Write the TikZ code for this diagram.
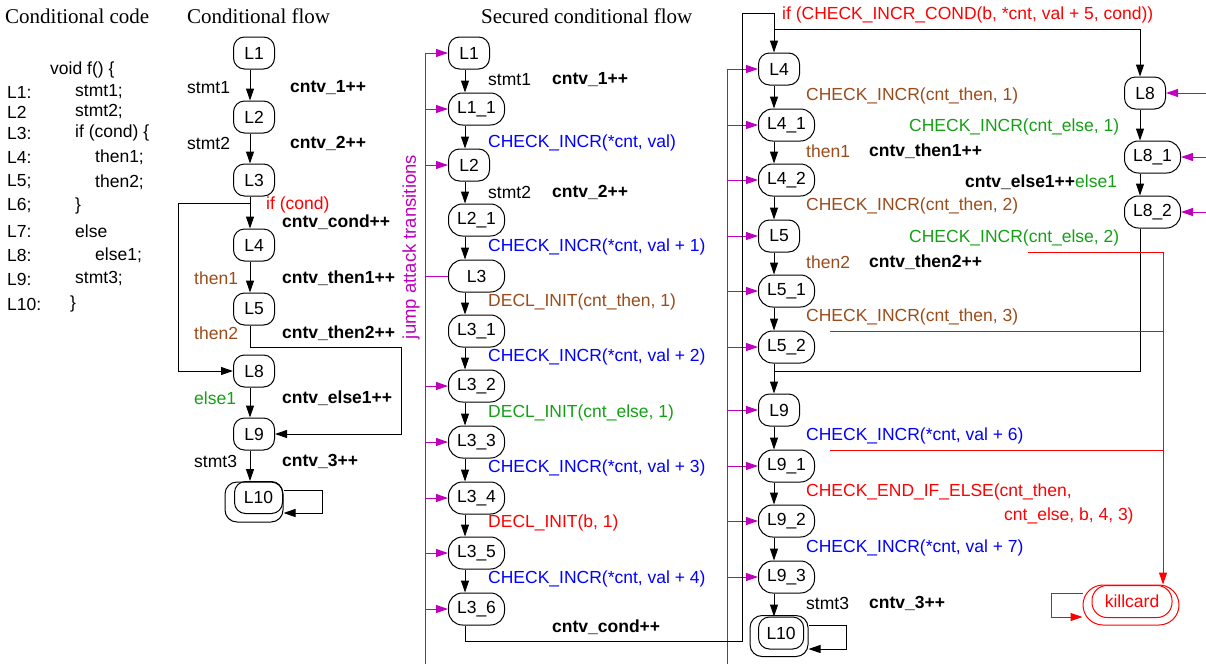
\documentclass[tikz,border=0pt]{standalone}
\usepackage{fontspec}
\setmainfont{Liberation Sans}
\newfontfamily\titlefont{Liberation Serif}
\usetikzlibrary{arrows.meta}
\definecolor{cred}{RGB}{255,0,0}
\definecolor{cblue}{RGB}{0,0,255}
\definecolor{cbrown}{RGB}{155,75,25}
\definecolor{cgreen}{RGB}{20,160,20}
\definecolor{cmag}{RGB}{190,0,190}
\begin{document}
\begin{tikzpicture}[x=1pt,y=-1pt,
  font=\fontsize{17.5}{21}\selectfont,
  nd/.style={draw,line width=1pt,rounded corners=11pt,minimum height=32pt,minimum width=41pt,inner xsep=8pt,inner ysep=0pt,anchor=west},
  ndw/.style={nd,minimum width=56pt,rounded corners=14pt},
  per/.style={draw,line width=1pt,rounded corners=12pt,inner sep=0pt},
  lbl/.style={anchor=west,inner sep=0pt},
  bl/.style={lbl,font=\fontsize{17.5}{21}\selectfont\bfseries},
  ttl/.style={anchor=west,inner sep=0pt,font=\fontsize{21}{25}\selectfont\titlefont},
  ln/.style={line width=1pt},
  tip/.style={-{Triangle[length=12pt,width=8pt]}},
  ar/.style={ln,tip},
  mg/.style={ln,cmag},
  ma/.style={mg,tip},
  kl/.style={ln,cred},
  ka/.style={kl,tip},
]
\useasboundingbox (0,0) rectangle (1206,664);

% ---------- titles ----------
\node[ttl] (t1) at (5,16) {Conditional code};
\node[ttl] (t2) at (187,16) {Conditional flow};
\node[ttl] (t3) at (481,16) {Secured conditional flow};

% ---------- code ----------
\node[lbl] (cv) at (50,70) {void f() \{};
\node[lbl] (k1) at (7,92) {L1:};   \node[lbl] (s1) at (75,92) {stmt1;};
\node[lbl] (k2) at (7,112) {L2};   \node[lbl] (s2) at (75,112) {stmt2;};
\node[lbl] (k3) at (7,133) {L3:};  \node[lbl] (s3) at (75,133) {if (cond) \{};
\node[lbl] (k4) at (7,157) {L4:};  \node[lbl] (s4) at (95,157) {then1;};
\node[lbl] (k5) at (7,182) {L5;};  \node[lbl] (s5) at (95,182) {then2;};
\node[lbl] (k6) at (7,206) {L6;};  \node[lbl] (s6) at (75,206) {\}};
\node[lbl] (k7) at (7,231) {L7:};  \node[lbl] (s7) at (75,231) {else};
\node[lbl] (k8) at (7,255) {L8:};  \node[lbl] (s8) at (95,255) {else1;};
\node[lbl] (k9) at (7,279) {L9:};  \node[lbl] (s9) at (75,279) {stmt3;};
\node[lbl] (k10) at (7,304) {L10:};\node[lbl] (s10) at (70,304) {\}};

% ---------- conditional flow ----------
\coordinate (c0) at (250,0);
\node[nd] (cL1) at (233,53) {L1};
\node[nd] (cL2) at (233,117) {L2};
\node[nd] (cL3) at (233,180) {L3};
\node[nd] (cL4) at (233,245) {L4};
\node[nd] (cL5) at (233,309) {L5};
\node[nd] (cL8) at (233,371) {L8};
\node[nd] (cL9) at (233,434) {L9};
\node[per,minimum width=58pt,minimum height=40pt] (cL10o) at (254,502) {};
\node[nd,minimum width=48pt] (cL10) at (234,497.5) {L10};

\node[lbl] at (187,88) {stmt1};   \node[bl] at (290,88) {cntv\_1++};
\node[lbl] at (187,143) {stmt2};  \node[bl] at (290,143) {cntv\_2++};
\node[lbl,text=cred] at (266,205) {if (cond)};
\node[bl] at (282,222) {cntv\_cond++};
\node[lbl,text=cbrown] at (194,278) {then1}; \node[bl] at (282,278) {cntv\_then1++};
\node[lbl,text=cbrown] at (194,333) {then2}; \node[bl] at (282,333) {cntv\_then2++};
\node[lbl,text=cgreen] at (194,398) {else1}; \node[bl] at (282,398) {cntv\_else1++};
\node[lbl] at (194,461) {stmt3};  \node[bl] at (282,461) {cntv\_3++};

\draw[ar] (cL1.south -| c0) -- (cL2.north -| c0);
\draw[ar] (cL2.south -| c0) -- (cL3.north -| c0);
\draw[ar] (cL3.south -| c0) -- (cL4.north -| c0);
\draw[ar] (cL4.south -| c0) -- (cL5.north -| c0);
\draw[ar] (cL8.south -| c0) -- (cL9.north -| c0);
\draw[ar] (cL9.south -| c0) -- (cL10.north -| c0);
\coordinate (f0) at (250,203);
\draw[ar] (f0) -- (178,203) |- (cL8.west);
\draw[ar] (cL5.south -| c0) |- (401,347) |- (cL9.east);
\draw[ar] ([yshift=12pt]cL10o.east) -- ++(39,0) |- ([yshift=-11pt]cL10o.east);

% ---------- secured flow, column 1 ----------
\coordinate (c1) at (465,0);
\coordinate (m1) at (425,0);
\node[nd] (sL1) at (448,53) {L1};
\node[ndw] (sL11) at (448,109) {L1\_1};
\node[nd] (sL2) at (448,165) {L2};
\node[ndw] (sL21) at (448,220) {L2\_1};
\node[ndw] (sL3) at (448,276) {L3};
\node[ndw] (sL31) at (448,331) {L3\_1};
\node[ndw] (sL32) at (448,386) {L3\_2};
\node[ndw] (sL33) at (448,442) {L3\_3};
\node[ndw] (sL34) at (448,498) {L3\_4};
\node[ndw] (sL35) at (448,553) {L3\_5};
\node[ndw] (sL36) at (448,609) {L3\_6};

\node[lbl] at (488,80) {stmt1}; \node[bl] at (552,80) {cntv\_1++};
\node[lbl,text=cblue] at (488,143) {CHECK\_INCR(*cnt, val)};
\node[lbl] at (488,192) {stmt2}; \node[bl] at (552,192) {cntv\_2++};
\node[lbl,text=cblue] at (488,247) {CHECK\_INCR(*cnt, val + 1)};
\node[lbl,text=cbrown] at (488,302) {DECL\_INIT(cnt\_then, 1)};
\node[lbl,text=cblue] at (488,357) {CHECK\_INCR(*cnt, val + 2)};
\node[lbl,text=cgreen] at (488,413) {DECL\_INIT(cnt\_else, 1)};
\node[lbl,text=cblue] at (488,468) {CHECK\_INCR(*cnt, val + 3)};
\node[lbl,text=cred] at (488,523) {DECL\_INIT(b, 1)};
\node[lbl,text=cblue] at (488,579) {CHECK\_INCR(*cnt, val + 4)};
\node[bl] at (552,627) {cntv\_cond++};

\foreach \a/\b in {sL1/sL11,sL11/sL2,sL2/sL21,sL21/sL3,sL3/sL31,sL31/sL32,sL32/sL33,sL33/sL34,sL34/sL35,sL35/sL36}
  \draw[ar] (\a.south -| c1) -- (\b.north -| c1);

\node[lbl,anchor=center,rotate=90,text=cmag,font=\fontsize{18.5}{22}\selectfont] (jat) at (411,247) {jump attack transitions};
\draw[mg] (sL1.west -| m1) -- (425,664);
\foreach \n in {sL1,sL11,sL2,sL32,sL33,sL34,sL35,sL36}
  \draw[ma] (\n.west -| m1) -- (\n.west);
\draw[mg] (sL3.west -| m1) -- (sL3.west);

% ---------- secured flow, column 2 ----------
\coordinate (c2) at (774,0);
\coordinate (m2) at (727,0);
\node[nd] (sL4) at (758,69) {L4};
\node[ndw] (sL41) at (758,125) {L4\_1};
\node[ndw] (sL42) at (758,180) {L4\_2};
\node[nd] (sL5) at (758,236) {L5};
\node[ndw] (sL51) at (758,291) {L5\_1};
\node[ndw] (sL52) at (758,347) {L5\_2};
\node[nd] (sL9) at (758,410) {L9};
\node[ndw] (sL91) at (758,466) {L9\_1};
\node[ndw] (sL92) at (758,521) {L9\_2};
\node[ndw] (sL93) at (758,577) {L9\_3};
\node[per,minimum width=58pt,minimum height=41pt] (sL10o) at (779,636) {};
\node[nd] (sL10) at (758,633) {L10};

\node[lbl,text=cred] at (782,15) {if (CHECK\_INCR\_COND(b, *cnt, val + 5, cond))};
\node[lbl,text=cbrown] at (806,96) {CHECK\_INCR(cnt\_then, 1)};
\node[lbl,text=cbrown] at (806,151) {then1}; \node[bl] at (869,151) {cntv\_then1++};
\node[lbl,text=cbrown] at (806,206) {CHECK\_INCR(cnt\_then, 2)};
\node[lbl,text=cbrown] at (806,262) {then2}; \node[bl] at (869,262) {cntv\_then2++};
\node[lbl,text=cbrown] at (806,317) {CHECK\_INCR(cnt\_then, 3)};
\node[lbl,text=cblue] at (806,436) {CHECK\_INCR(*cnt, val + 6)};
\node[lbl,text=cred] at (806,492) {CHECK\_END\_IF\_ELSE(cnt\_then,};
\node[lbl,text=cred] at (1004,516) {cnt\_else, b, 4, 3)};
\node[lbl,text=cblue] at (806,548) {CHECK\_INCR(*cnt, val + 7)};
\node[lbl] at (806,603) {stmt3}; \node[bl] at (869,603) {cntv\_3++};

\foreach \a/\b in {sL4/sL41,sL41/sL42,sL42/sL5,sL5/sL51,sL51/sL52,sL52/sL9,sL9/sL91,sL91/sL92,sL92/sL93,sL93/sL10}
  \draw[ar] (\a.south -| c2) -- (\b.north -| c2);
\draw[ar] ([yshift=11pt]sL10o.east) -- ++(38,0) |- ([yshift=-13pt]sL10o.east);

\draw[mg] (sL4.west -| m2) -- (727,664);
\foreach \n in {sL4,sL41,sL42,sL5,sL51,sL52,sL9,sL91,sL92,sL93}
  \draw[ma] (\n.west -| m2) -- (\n.west);

% jump from column 1 to column 2
\draw[ar] (sL36.south -| c1) |- (742,641) |- (774,13) -- (sL4.north -| c2);

% ---------- secured flow, column 3 ----------
\coordinate (c3) at (1140,0);
\coordinate (m3) at (1206,0);
\node[nd] (sL8) at (1124,93) {L8};
\node[ndw] (sL81) at (1124,157) {L8\_1};
\node[ndw] (sL82) at (1124,212) {L8\_2};

\node[lbl,text=cgreen] at (909,127) {CHECK\_INCR(cnt\_else, 1)};
\node[lbl] at (965,182) {\bfseries cntv\_else1++\textcolor{cgreen}{\mdseries else1}};
\node[lbl,text=cgreen] at (909,238) {CHECK\_INCR(cnt\_else, 2)};

\coordinate (f2) at (774,29);
\draw[ar] (f2) -| (sL8.north -| c3);
\draw[ar] (sL8.south -| c3) -- (sL81.north -| c3);
\draw[ar] (sL81.south -| c3) -- (sL82.north -| c3);
\draw[ln] (sL82.south -| c3) |- (774,371);
\foreach \n in {sL8,sL81,sL82}
  \draw[ma] (\n.east -| m3) -- (\n.east);

% ---------- killcard ----------
\node[per,draw=cred,rounded corners=20pt,minimum width=96pt,minimum height=40pt] (killo) at (1131,605) {};
\node[nd,draw=cred,text=cred,rounded corners=15pt,minimum width=80pt,anchor=center] (kill) at (1132,601.5) {killcard};
\coordinate (r) at (1163,0);
\coordinate (q1) at (1028,252);
\coordinate (q2) at (830,331);
\coordinate (q3) at (830,450);
\draw[ka] (q1) -| (killo.north -| r);
\draw[kl] (q2) -- (q2 -| r);
\draw[kl] (q3) -- (q3 -| r);
\draw[ka] ([yshift=12pt]killo.west) -- ++(-31,0) |- ([yshift=-12pt]killo.west);

\end{tikzpicture}
\end{document}
